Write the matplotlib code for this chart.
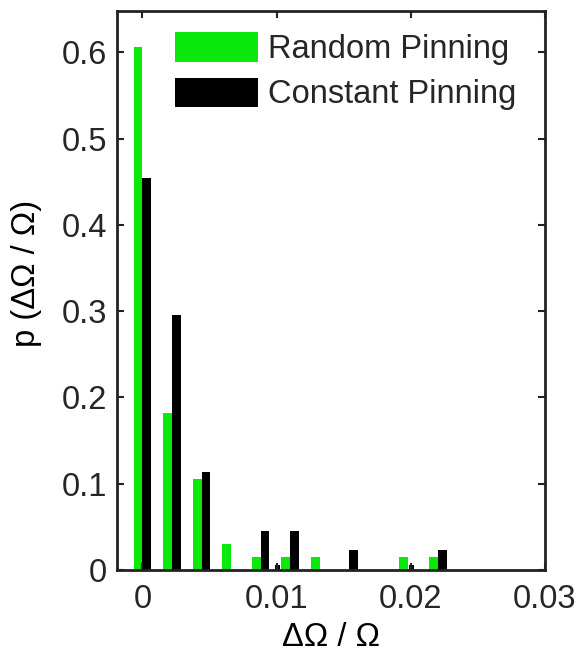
import numpy as np
import matplotlib.pyplot as plt

plt.rcParams['font.family'] = ['Liberation Sans', 'DejaVu Sans']
plt.rcParams['text.color'] = '#262626'
plt.rcParams['xtick.labelcolor'] = '#262626'
plt.rcParams['ytick.labelcolor'] = '#262626'

# histogram bin centres (dOmega / Omega)
bin_centers = np.arange(11) * 0.0022
random_p = [40/66, 12/66, 7/66, 2/66, 1/66, 1/66, 1/66, 0, 0, 1/66, 1/66]
constant_p = [20/44, 13/44, 5/44, 0, 2/44, 2/44, 0, 1/44, 0, 0, 1/44]

# two small extra samples in the constant-pinning run
extra_x = [0.01005, 0.02005]
extra_p = [0.006, 0.006]

xticks = [0, 0.01, 0.02, 0.03]
yticks = [0, 0.1, 0.2, 0.3, 0.4, 0.5, 0.6]

w = 0.00066
green = '#0be80b'
fs = 23.5

fig = plt.figure(figsize=(5.83, 6.56), dpi=100)
ax = fig.add_axes([0.2007, 0.1311, 0.7341, 0.8521])

ax.bar(bin_centers - w / 2, random_p, width=w, color=green, label='Random Pinning')
ax.bar(bin_centers + w / 2, constant_p, width=w, color='black', label='Constant Pinning')
ax.bar(extra_x, extra_p, width=0.0004, color='black')

ax.set_xlim(-0.0019, 0.03)
ax.set_ylim(0, 0.648)
ax.set_xticks(xticks)
ax.set_xticklabels(['0', '0.01', '0.02', '0.03'])
ax.set_yticks(yticks)
ax.set_yticklabels(['0', '0.1', '0.2', '0.3', '0.4', '0.5', '0.6'])
ax.tick_params(direction='in', length=5, width=1.5, labelsize=fs, color='#222222',
               top=True, right=True)
ax.tick_params(axis='x', pad=10)
ax.tick_params(axis='y', pad=7)
for s in ax.spines.values():
    s.set_linewidth(2)
    s.set_color('#222222')

ax.set_xlabel('ΔΩ / Ω', fontsize=fs, labelpad=5)
ax.set_ylabel('p (ΔΩ / Ω)', fontsize=fs)
ax.yaxis.set_label_coords(-0.175, 0.53)

ax.legend(loc='upper left', bbox_to_anchor=(0.105, 0.985), frameon=False, fontsize=fs,
          handlelength=2.55, handleheight=1.0, handletextpad=0.3, labelspacing=0.38,
          borderaxespad=0)

fig.savefig('out.png', dpi=100)
